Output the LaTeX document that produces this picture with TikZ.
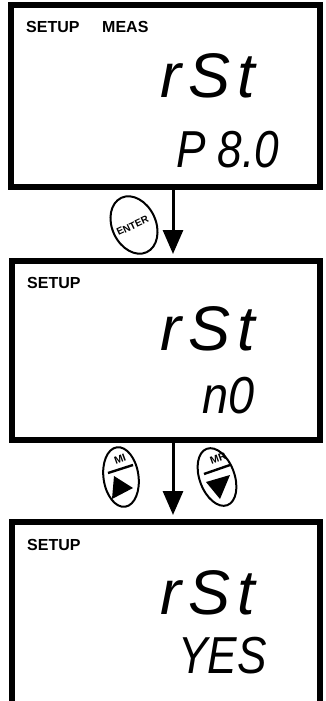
\documentclass[tikz,border=0pt]{standalone}
\usepackage{fontspec}
\setmainfont{Liberation Sans}
\usetikzlibrary{arrows.meta,shapes.geometric}
\begin{document}
\begin{tikzpicture}[x=1pt,y=-1pt,
  lcd/.style={draw=black,line width=6pt,rectangle,inner sep=0pt},
  flow/.style={line width=3pt,-{Triangle[width=20pt,length=24pt]},shorten >=4pt},
  btn/.style={draw,ellipse,line width=2pt,minimum width=35pt,minimum height=60pt,inner sep=0pt},
  btntext/.style={font=\bfseries\fontsize{10.5}{10.5}\selectfont,inner sep=0pt,rotate=20},
  lbl/.style={font=\bfseries\fontsize{16}{16}\selectfont,anchor=base west,inner sep=0pt},
  seg/.style={font=\itshape\fontsize{63}{63}\selectfont,anchor=base west,inner sep=0pt},
  segs/.style={font=\itshape\fontsize{52}{52}\selectfont,anchor=base west,inner sep=0pt},
]
\useasboundingbox (0,0) rectangle (325,701);
\clip (0,0) rectangle (325,701);
% display boxes
\node[lcd,minimum width=309pt,minimum height=182pt] (box1) at (165.5,96) {};
\node[lcd,minimum width=308pt,minimum height=179pt] (box2) at (166,350.5) {};
\node[lcd,minimum width=308pt,minimum height=220pt] (box3) at (166,632) {};
% arrows
\coordinate (ax) at (173,0);
\draw[flow] (box1.south -| ax) -- (box2.north -| ax);
\draw[flow] (box2.south -| ax) -- (box3.north -| ax);
% box 1
\node[lbl] (s1) at (26,33) {SETUP};
\node[lbl] (m1) at (102,33) {MEAS};
\node[seg] (r1) at (160,97) {r\kern7pt S\kern7pt t};
\node[segs] (p1) at (176,167) {\scalebox{0.85}[1]{P 8.0}};
% box 2
\node[lbl] (s2) at (27,288) {SETUP};
\node[seg] (r2) at (160,350) {r\kern7pt S\kern7pt t};
\node[segs] (n2) at (202,413) {\scalebox{0.9}[1]{n0}};
% box 3
\node[lbl] (s3) at (27,550) {SETUP};
\node[seg] (r3) at (160,614) {r\kern7pt S\kern7pt t};
\node[segs] (y3) at (178,673) {\scalebox{0.85}[1]{YES}};
% ENTER button
\node[btn,rotate=25,font=\bfseries\fontsize{10}{10}\selectfont] (enter) at (134,225) {\kern-3pt ENTER};
% MI button
\node[btn,rotate=8] (mi) at (121,477) {};
\node[btntext] (mit) at (120,459) {MI};
\draw[line width=2.4pt] (108,473) -- (133,465);
\fill (112,499) -- (114,476) -- (133,488) -- cycle;
% MR button
\node[btn,rotate=20] (mr) at (217,477) {};
\node[btntext] (mrt) at (218,458) {MR};
\draw[line width=2.4pt] (204,474) -- (230,465);
\fill (206,482) -- (230,475) -- (220,499) -- cycle;
\end{tikzpicture}
\end{document}
